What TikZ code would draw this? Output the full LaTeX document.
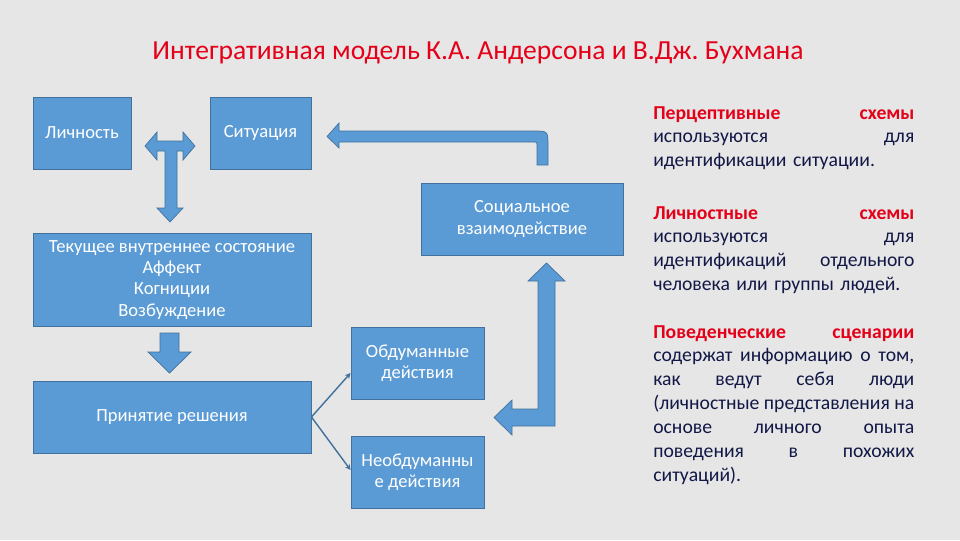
\documentclass[tikz,border=0pt]{standalone}
\usepackage{fontspec}
\setmainfont{Carlito}
\usetikzlibrary{calc,arrows.meta}
\definecolor{slidebg}{RGB}{231,230,230}
\definecolor{boxblue}{RGB}{91,155,213}
\definecolor{boxedge}{RGB}{65,113,156}
\definecolor{titlered}{RGB}{228,0,24}
\definecolor{textnavy}{RGB}{18,24,70}
\newcommand{\rline}[1]{\hbox to\hsize{\spaceskip=.2em plus 1fil\relax #1}}
\newcommand{\rlast}[1]{\hbox{#1}}
\newcommand{\rh}[1]{\textcolor{titlered}{\textbf{#1}}}
\frenchspacing
\begin{document}
\begin{tikzpicture}[x=0.025cm,y=-0.025cm,
  box/.style={draw=boxedge, line width=0.6pt, fill=boxblue, text=white, align=center,
    font=\fontsize{13.2}{15}\selectfont, inner sep=2pt},
  blockarrow/.style={draw=boxedge, line width=0.5pt, fill=boxblue},
  link/.style={draw=boxedge, line width=1pt, -{Stealth[length=4pt,width=4pt]}},
  note/.style={anchor=north west, inner sep=0pt, text width=6.525cm, text=textnavy,
    font=\fontsize{14}{17}\selectfont}]
\fill[slidebg] (0,0) rectangle (960,540);
\node[text=titlered, font=\fontsize{19.6}{23}\selectfont] (title) at (478,53)
  {Интегративная модель К.А. Андерсона и В.Дж. Бухмана};
% boxes
\node[box, minimum width=2.45cm, minimum height=1.8cm] (lich) at (82,133) {Личность};
\node[box, minimum width=2.525cm, minimum height=1.8cm] (sit) at (260.5,133) {Ситуация};
\node[box, minimum width=6.95cm, minimum height=2.325cm] (sost) at (172,280)
  {Текущее внутреннее состояние\\Аффект\\Когниции\\Возбуждение};
\node[box, minimum width=6.95cm, minimum height=1.8cm] (resh) at (172,417) {Принятие решения};
\node[box, minimum width=5.05cm, minimum height=1.8cm] (soc) at (522,219)
  {Социальное\\взаимодействие};
\node[box, minimum width=3.325cm, minimum height=1.8cm] (obd) at (417.5,363)
  {Обдуманные\\действия};
\node[box, minimum width=3.325cm, minimum height=1.8cm] (neobd) at (417.5,472)
  {Необдуманны\\е действия};
% block arrows
\filldraw[blockarrow] (145,146) -- (157,132) -- (157,141) -- (183,141) -- (183,132)
  -- (195,146) -- (183,160) -- (183,151) -- (177,151) -- (177,208) -- (183,208)
  -- (170,222) -- (157,208) -- (165,208) -- (165,151) -- (157,151) -- (157,160) -- cycle;
\filldraw[blockarrow] (548,165) -- (548,146) .. controls (548,131) and (548,131) .. (533,131)
  -- (339,131) -- (339,123) -- (327,136.5) -- (339,148) -- (339,142) -- (533,142)
  .. controls (537,142) and (537,142) .. (537,146) -- (537,165) -- cycle;
\filldraw[blockarrow] (546.5,263) -- (565,281) -- (555,281) -- (555,426) -- (512,426)
  -- (512,435) -- (494,417.5) -- (512,400) -- (512,409) -- (538,409) -- (538,281)
  -- (528,281) -- cycle;
\filldraw[blockarrow] (160,333) -- (179,333) -- (179,352) -- (191,352) -- (169.5,373)
  -- (148,352) -- (160,352) -- cycle;
% thin links
\draw[link] (resh.east) -- ($(obd.west)+(0,10)$);
\draw[link] (resh.east) -- ($(neobd.west)+(0,-2)$);
% notes
\node[note] (perc) at (653,106) {%
  \rline{\rh{Перцептивные} \rh{схемы}}
  \rline{используются для}
  \rlast{идентификации ситуации.}};
\node[note] (lichsch) at (653,206) {%
  \rline{\rh{Личностные} \rh{схемы}}
  \rline{используются для}
  \rline{идентификаций отдельного}
  \rlast{человека или группы людей.}};
\node[note] (pov) at (653,325) {%
  \rline{\rh{Поведенческие} \rh{сценарии}}
  \rline{содержат информацию о том,}
  \rline{как ведут себя люди}
  \rline{(личностные представления на}
  \rline{основе личного опыта}
  \rline{поведения в похожих}
  \rlast{ситуаций).}};
\end{tikzpicture}
\end{document}
